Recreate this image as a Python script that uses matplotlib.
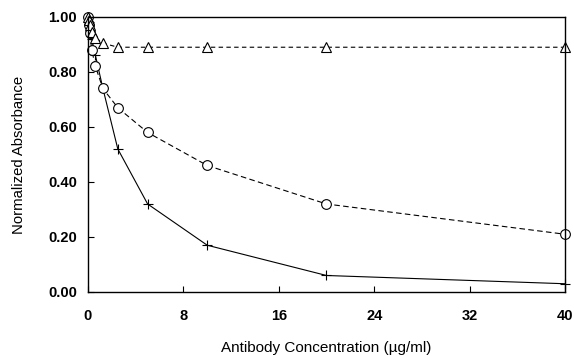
import numpy as np
import matplotlib.pyplot as plt

# antibody concentration (ug/ml)
conc = [0, 0.078, 0.156, 0.3125, 0.625, 1.25, 2.5, 5, 10, 20, 40]
plus_vals = [1.0, 0.98, 0.95, 0.92, 0.86, 0.74, 0.52, 0.32, 0.17, 0.06, 0.03]
circle_vals = [1.0, 0.97, 0.94, 0.88, 0.82, 0.74, 0.67, 0.58, 0.46, 0.32, 0.21]
triangle_vals = [1.0, 0.99, 0.97, 0.945, 0.925, 0.905, 0.89, 0.89, 0.89, 0.89, 0.89]

xticks = [0, 8, 16, 24, 32, 40]
yticks = [0.0, 0.2, 0.4, 0.6, 0.8, 1.0]

plt.rcParams['font.family'] = ['Liberation Sans', 'DejaVu Sans']

fig = plt.figure(figsize=(5.74, 3.56), dpi=100)
ax = fig.add_axes([0.1533, 0.1798, 0.831, 0.7725])

ax.plot(conc, plus_vals, color='k', lw=0.8, marker='+', ms=7, mew=0.8, clip_on=False)
ax.plot(conc, circle_vals, color='k', lw=0.8, ls=(0, (5, 3)), marker='o', ms=7,
        mfc='white', mec='k', mew=0.8, clip_on=False)
ax.plot(conc, triangle_vals, color='k', lw=0.8, ls=(0, (4, 3)), marker='^', ms=7,
        mfc='white', mec='k', mew=0.8, clip_on=False)

ax.set_xlim(0, 40)
ax.set_ylim(0, 1.0)
ax.set_xticks(xticks)
ax.set_yticks(yticks)
ax.set_yticklabels([f'{v:.2f}' for v in yticks], fontsize=10.5, fontweight='bold')
ax.set_xticklabels([str(v) for v in xticks], fontsize=10.5, fontweight='bold')
ax.tick_params(direction='in', length=4, width=0.8)
ax.tick_params(axis='y', pad=8)
ax.tick_params(axis='x', pad=12)
for s in ax.spines.values():
    s.set_linewidth(1.0)

ax.set_xlabel('Antibody Concentration (\u00b5g/ml)', fontsize=11, labelpad=13)
ax.set_ylabel('Normalized Absorbance', fontsize=10.7, labelpad=16)

fig.savefig('out.png', dpi=100)
